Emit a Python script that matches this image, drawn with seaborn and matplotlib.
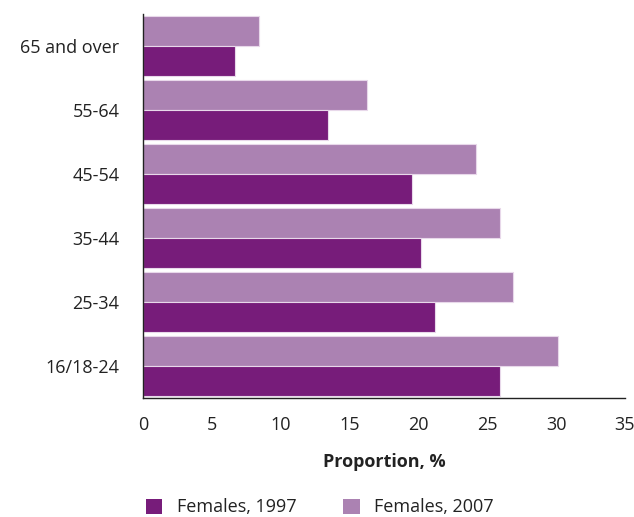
import pandas as pd
import matplotlib.pyplot as plt
import seaborn as sns
from matplotlib.patches import Patch

groups = ['65 and over', '55-64', '45-54', '35-44', '25-34', '16/18-24']
females_1997 = [6.7, 13.4, 19.5, 20.2, 21.2, 25.9]
females_2007 = [8.4, 16.3, 24.2, 25.9, 26.9, 30.1]

dark = '#771C7A'
light = '#AB82B2'

df = pd.DataFrame({
    'group': groups * 2,
    'value': females_2007 + females_1997,
    'year': ['2007'] * len(groups) + ['1997'] * len(groups),
})

sns.set_style('white')
plt.rcParams['font.family'] = ['Open Sans', 'DejaVu Sans']

fig = plt.figure(figsize=(6.34, 5.17), dpi=100)
ax = fig.add_axes([0.2256, 0.2302, 0.7602, 0.7428])

sns.barplot(data=df, x='value', y='group', hue='year', hue_order=['2007', '1997'],
            order=groups, orient='h', palette={'2007': light, '1997': dark},
            saturation=1, width=0.93, edgecolor='#E8D8EA', linewidth=0.8,
            legend=False, ax=ax)

fs = 13
ax.set_xlim(0, 35)
ax.set_ylim(5.5, -0.5)
ax.set_xticks(range(0, 36, 5))
ax.tick_params(axis='x', which='major', direction='out', length=5, width=1,
               colors='#222222', labelsize=fs, pad=8)
ax.set_yticks(range(len(groups)))
ax.set_yticks([i - 0.5 for i in range(len(groups) + 1)], minor=True)
ax.tick_params(axis='y', which='major', length=0, labelsize=fs, pad=17, colors='#222222')
ax.tick_params(axis='y', which='minor', direction='out', length=4, width=1, color='#222222')
for s in ['top', 'right']:
    ax.spines[s].set_visible(False)
for s in ['left', 'bottom']:
    ax.spines[s].set_color('#222222')
    ax.spines[s].set_linewidth(1)
ax.set_ylabel('')
ax.set_xlabel('Proportion, %', fontsize=fs, fontweight='bold', labelpad=14, color='#222222')

handles = [Patch(facecolor=dark, edgecolor='none', label='Females, 1997'),
           Patch(facecolor=light, edgecolor='none', label='Females, 2007')]
fig.legend(handles=handles, loc='lower left', bbox_to_anchor=(0.205, -0.03), ncol=2,
           frameon=False, fontsize=fs, handlelength=0.9, handleheight=0.9,
           handletextpad=0.8, columnspacing=2.6, labelcolor='#222222')

fig.savefig('out.png', dpi=100)
